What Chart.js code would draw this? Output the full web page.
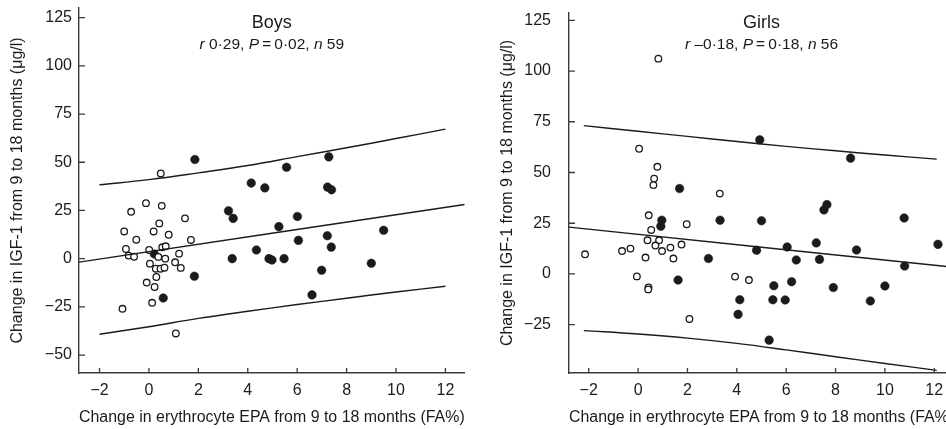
<!DOCTYPE html>
<html>
<head>
<meta charset="utf-8">
<script src="https://cdn.jsdelivr.net/npm/chart.js@4.4.0/dist/chart.umd.min.js"></script>
<style>
  html, body { margin: 0; padding: 0; background: #fff; overflow: hidden; width: 946px; height: 429px; }
  #boys { position: absolute; left: 0; top: 0; }
  #girls { position: absolute; left: 470px; top: 0; }
</style>
</head>
<body>
<canvas id="boys" width="470" height="429"></canvas>
<canvas id="girls" width="500" height="429"></canvas>
<script>
  const xTicks = [-2, 0, 2, 4, 6, 8, 10, 12]
  const boysYTicks = [125, 100, 75, 50, 25, 0, -25, -50]
  const girlsYTicks = [125, 100, 75, 50, 25, 0, -25]

  // Boys: open = low EPA change, filled = high EPA change
  const boysOpen = [
    [0.48, 44.2], [-0.12, 28.8], [0.52, 27.4], [-0.72, 24.3], [1.46, 20.9], [0.42, 18.3],
    [-1.0, 14.1], [0.19, 14.1], [0.80, 12.4], [-0.51, 9.8], [1.70, 9.7], [-0.93, 5.0],
    [0.54, 5.9], [0.68, 6.4], [0.01, 4.5], [-0.82, 1.6], [-0.60, 1.0], [0.38, 0.9],
    [0.66, 0], [1.22, 2.6], [0.04, -2.6], [1.06, -1.9], [0.28, -5.2], [0.47, -5.2],
    [0.63, -4.7], [1.29, -4.8], [0.30, -9.5], [-0.09, -12.4], [0.23, -14.7], [0.13, -22.9],
    [-1.07, -26.0], [1.09, -38.8]
  ]
  const boysFilled = [
    [1.86, 51.4], [0.22, 2.4], [0.58, -20.4], [1.84, -9.1], [3.22, 24.8], [3.41, 20.9],
    [3.37, 0], [4.14, 39.2], [4.35, 4.5], [4.69, 36.7], [4.86, 0], [4.98, -0.7],
    [5.26, 16.6], [5.47, 0], [5.57, 47.4], [6.01, 21.9], [6.05, 9.5], [6.60, -18.8],
    [6.99, -6.0], [7.28, 52.8], [7.23, 37.1], [7.39, 35.7], [7.22, 11.9], [7.38, 6.0],
    [9.0, -2.4], [9.50, 14.7]
  ]
  const boysFitX = [-2.83, 12.78]
  const boysFitY = [-1.8, 28.1]
  const boysBandX = [-2, 0, 2, 4, 6, 8, 10, 12]
  const boysUpper = [38.3, 41.0, 44.5, 48.3, 52.9, 57.5, 62.3, 67.2]
  const boysLower = [-39.2, -35.3, -31.0, -27.3, -23.8, -20.5, -17.3, -14.3]

  const girlsOpen = [
    [0.82, 106.1], [0.04, 61.7], [0.78, 52.8], [0.65, 47.0], [0.62, 43.8], [3.31, 39.6],
    [0.43, 28.9], [1.97, 24.5], [0.53, 21.7], [0.38, 16.6], [0.85, 16.6], [0.70, 14.0],
    [1.76, 14.5], [1.31, 13.0], [-0.31, 12.5], [-0.65, 11.3], [0.97, 11.3], [-2.15, 9.7],
    [0.30, 8.1], [1.43, 7.6], [-0.05, -1.2], [3.93, -1.3], [4.49, -3.0], [0.42, -6.6],
    [0.41, -7.6], [2.08, -22.2]
  ]
  const girlsFilled = [
    [1.68, 42.1], [0.96, 26.5], [0.92, 23.5], [3.32, 26.5], [2.85, 7.6], [1.62, -3.0],
    [4.93, 66.1], [5.0, 26.2], [4.80, 11.7], [4.12, -12.7], [4.05, -19.9], [5.31, -32.6],
    [5.50, -5.8], [5.46, -12.7], [6.04, 13.3], [6.41, 6.9], [6.22, -3.8], [5.96, -12.8],
    [7.22, 15.3], [7.35, 7.2], [7.53, 31.6], [7.65, 34.2], [7.91, -6.7], [8.61, 57.1],
    [8.85, 11.8], [9.41, -13.3], [10.0, -5.9], [10.78, 27.6], [10.80, 3.9], [12.15, 14.6]
  ]
  const girlsFitX = [-2.8, 12.8]
  const girlsFitY = [23.1, 3.3]
  const girlsBandX = [-2.2, 0, 2, 4, 6, 8, 10, 12.1]
  const girlsUpper = [73.1, 70.3, 67.8, 65.3, 62.9, 60.7, 58.6, 56.6]
  const girlsLower = [-27.9, -29.6, -31.6, -34.2, -37.4, -40.8, -44.1, -47.5]

  const FONT = '"Liberation Sans", Arial, sans-serif'
  const INK = '#1b1b1b'
  const AXIS = '#3a3a3a'
  const fmt = v => v < 0 ? '\u2212' + Math.abs(v) : String(v)
  const pairs = (xs, ys) => xs.map((x, i) => ({x: x, y: ys[i]}))
  const pts = arr => arr.map(p => ({x: p[0], y: p[1]}))
  // keep the plot box where the layout padding puts it
  const noEdgePadding = s => {
    s.paddingTop = 0
    s.paddingBottom = 0
    s.paddingLeft = 0
    s.paddingRight = 0
  }

  // ticks point into the plot, titles sit inside the plot area
  const panelDecor = {
    id: 'panelDecor',
    afterDraw(chart, args, opts) {
      const ctx = chart.ctx
      const area = chart.chartArea
      const xs = chart.scales.x
      const ys = chart.scales.y
      ctx.save()
      ctx.strokeStyle = AXIS
      ctx.lineWidth = 1.3
      ctx.beginPath()
      xs.ticks.forEach(t => {
        const px = xs.getPixelForValue(t.value)
        ctx.moveTo(px, area.bottom)
        ctx.lineTo(px, area.bottom - 5)
      })
      ys.ticks.forEach(t => {
        const py = ys.getPixelForValue(t.value)
        ctx.moveTo(area.left, py)
        ctx.lineTo(area.left + 6, py)
      })
      ctx.stroke()

      const cx = (area.left + area.right) / 2
      ctx.fillStyle = INK
      ctx.textAlign = 'center'
      ctx.textBaseline = 'middle'
      ctx.font = '18px ' + FONT
      ctx.fillText(opts.title, cx, 23)

      const size = 15.5
      let total = 0
      opts.sub.forEach(p => {
        ctx.font = (p[1] ? 'italic ' : '') + size + 'px ' + FONT
        total += ctx.measureText(p[0]).width
      })
      let x = cx - total / 2
      ctx.textAlign = 'left'
      opts.sub.forEach(p => {
        ctx.font = (p[1] ? 'italic ' : '') + size + 'px ' + FONT
        ctx.fillText(p[0], x, 45)
        x += ctx.measureText(p[0]).width
      })
      ctx.restore()
    }
  }

  const makePanel = (canvasId, cfg) => {
    const lineSet = data => ({
      type: 'line', data: data, showLine: true, borderColor: INK, borderWidth: 1.4,
      pointRadius: 0, tension: 0.4, fill: false
    })
    new Chart(document.getElementById(canvasId).getContext('2d'), {
      type: 'scatter',
      data: {
        datasets: [
          lineSet(pairs(cfg.fitX, cfg.fitY)),
          lineSet(pairs(cfg.bandX, cfg.upper)),
          lineSet(pairs(cfg.bandX, cfg.lower)),
          {
            data: pts(cfg.open), pointRadius: 3.3, pointBackgroundColor: '#fff',
            pointBorderColor: INK, pointBorderWidth: 1.3
          },
          {
            data: pts(cfg.filled), pointRadius: 4.3, pointBackgroundColor: INK,
            pointBorderColor: INK, pointBorderWidth: 0.5
          }
        ]
      },
      options: {
        responsive: false,
        animation: false,
        layout: {padding: cfg.padding},
        plugins: {
          legend: {display: false},
          tooltip: {enabled: false},
          panelDecor: {title: cfg.title, sub: cfg.sub}
        },
        scales: {
          x: {
            type: 'linear', min: cfg.xMin, max: cfg.xMax,
            afterBuildTicks: s => { s.ticks = xTicks.map(v => ({value: v})) },
            afterFit: s => { s.height = 56; noEdgePadding(s) },
            grid: {drawOnChartArea: false, drawTicks: false},
            border: {display: true, color: AXIS, width: 1.4},
            ticks: {color: INK, font: {family: FONT, size: 16}, padding: 8, callback: fmt},
            title: {
              display: true, text: 'Change in erythrocyte EPA from 9 to 18 months (FA%)',
              color: INK, font: {family: FONT, size: 16}, padding: {top: 0, bottom: 2}
            }
          },
          y: {
            type: 'linear', min: cfg.yMin, max: cfg.yMax,
            afterBuildTicks: s => { s.ticks = cfg.yTicks.map(v => ({value: v})) },
            afterFit: s => { s.width = 79; noEdgePadding(s) },
            grid: {drawOnChartArea: false, drawTicks: false},
            border: {display: true, color: AXIS, width: 1.4},
            ticks: {color: INK, font: {family: FONT, size: 16}, padding: cfg.yPad, callback: fmt},
            title: {
              display: true, text: 'Change in IGF-1 from 9 to 18 months (\u03bcg/l)',
              color: INK, font: {family: FONT, size: 16}, padding: {top: 8, bottom: 0}
            }
          }
        }
      },
      plugins: [panelDecor]
    })
  }

  makePanel('boys', {
    title: 'Boys',
    sub: [['r', true], [' 0\u00b729, ', false], ['P', true], ['\u2009=\u20090\u00b702, ', false], ['n', true], [' 59', false]],
    open: boysOpen, filled: boysFilled,
    fitX: boysFitX, fitY: boysFitY, bandX: boysBandX, upper: boysUpper, lower: boysLower,
    xMin: -2.83, xMax: 12.78, yMin: -59.3, yMax: 130, yTicks: boysYTicks, yPad: 7,
    padding: {left: 0, top: 8, right: 3, bottom: 0}
  })

  makePanel('girls', {
    title: 'Girls',
    sub: [['r', true], [' \u20130\u00b718, ', false], ['P', true], ['\u2009=\u20090\u00b718, ', false], ['n', true], [' 56', false]],
    open: girlsOpen, filled: girlsFilled,
    fitX: girlsFitX, fitY: girlsFitY, bandX: girlsBandX, upper: girlsUpper, lower: girlsLower,
    xMin: -2.8, xMax: 12.8, yMin: -48.8, yMax: 128.6, yTicks: girlsYTicks, yPad: 18,
    padding: {left: 20, top: 13, right: 16, bottom: 0}
  })
</script>
</body>
</html>
